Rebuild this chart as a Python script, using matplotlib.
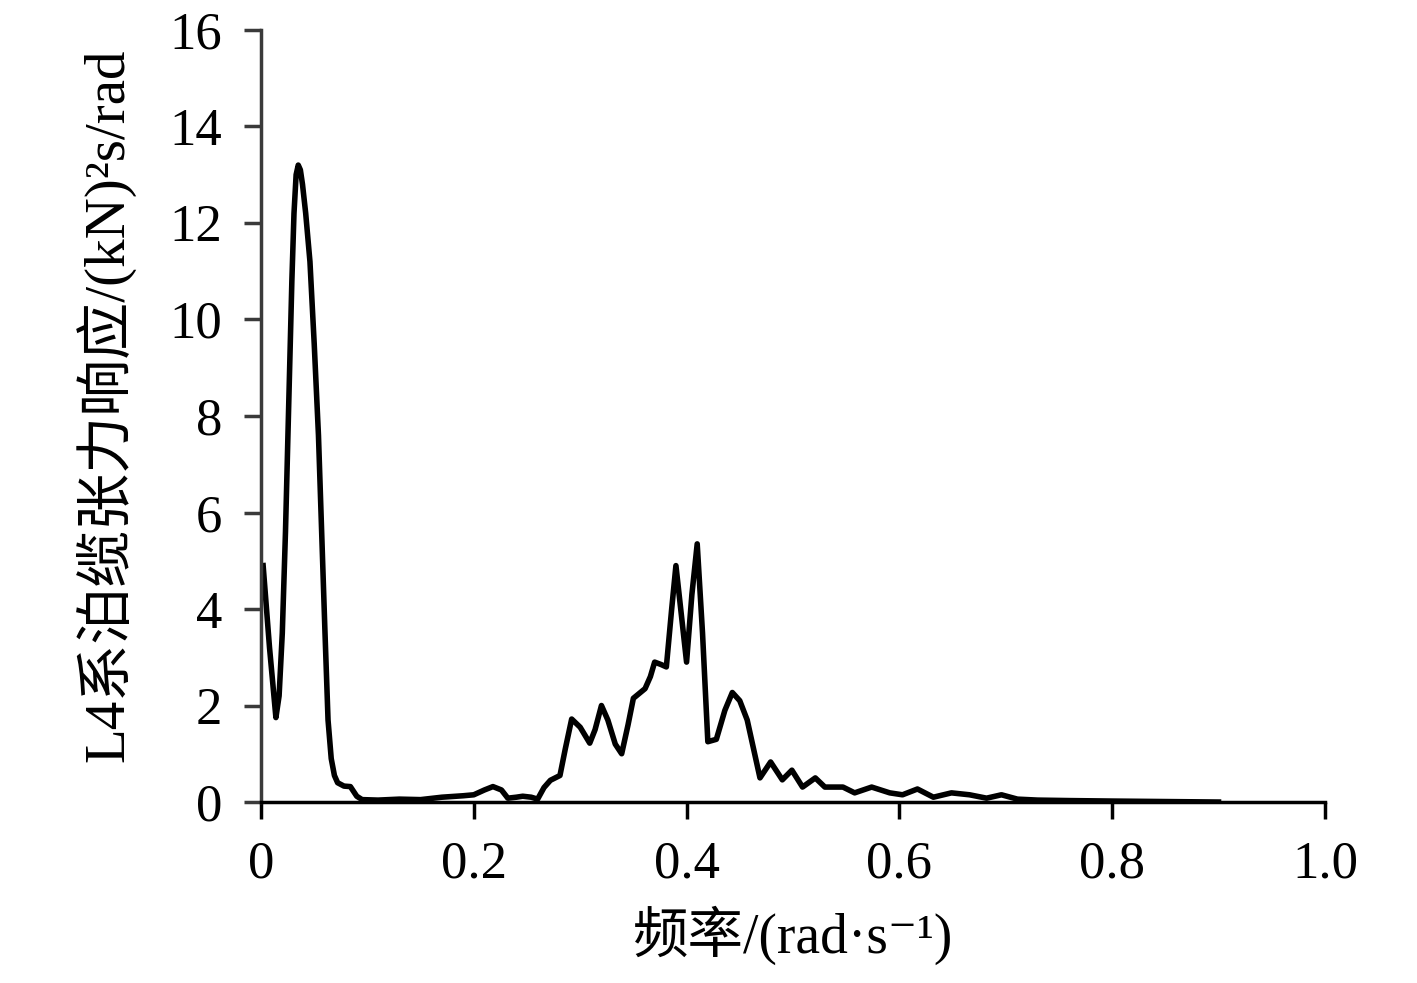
import matplotlib
matplotlib.use("Agg")
import matplotlib.pyplot as plt

plt.rcParams['font.family'] = ['Liberation Serif', 'Noto Sans CJK SC', 'DejaVu Sans']

# frequency (rad/s) and spectral density
freq = [0.002, 0.008, 0.014, 0.017, 0.020, 0.023, 0.026, 0.029, 0.031, 0.033,
        0.035, 0.037, 0.039, 0.042, 0.046, 0.050, 0.054, 0.057, 0.060, 0.063,
        0.066, 0.069, 0.072, 0.078, 0.084, 0.090, 0.095,
        0.11, 0.13, 0.15, 0.17, 0.19, 0.20, 0.21, 0.218, 0.226, 0.232,
        0.24, 0.246, 0.254, 0.26, 0.266, 0.272, 0.281, 0.286, 0.292, 0.300,
        0.309, 0.314, 0.320, 0.326, 0.333, 0.339, 0.345, 0.350, 0.361, 0.366,
        0.370, 0.376, 0.381, 0.386, 0.390, 0.395, 0.400, 0.405, 0.410, 0.415,
        0.420, 0.428, 0.436, 0.443, 0.450, 0.457, 0.463, 0.469, 0.479, 0.490,
        0.499, 0.509, 0.521, 0.530, 0.547, 0.558, 0.574, 0.591, 0.603, 0.617,
        0.632, 0.649, 0.666, 0.682, 0.696, 0.711, 0.73, 0.76, 0.80, 0.85, 0.90]
tension = [4.9, 3.2, 1.75, 2.2, 3.5, 5.6, 8.2, 10.8, 12.2, 13.0,
           13.2, 13.1, 12.8, 12.2, 11.2, 9.5, 7.6, 5.6, 3.6, 1.7,
           0.9, 0.55, 0.4, 0.33, 0.32, 0.12, 0.05,
           0.04, 0.06, 0.05, 0.1, 0.13, 0.15, 0.25, 0.32, 0.25, 0.08,
           0.1, 0.12, 0.1, 0.06, 0.3, 0.45, 0.55, 1.1, 1.72, 1.55,
           1.22, 1.5, 2.0, 1.7, 1.2, 1.0, 1.6, 2.15, 2.35, 2.6,
           2.9, 2.85, 2.8, 4.0, 4.9, 3.9, 2.9, 4.3, 5.35, 3.5,
           1.25, 1.3, 1.9, 2.27, 2.1, 1.7, 1.1, 0.5, 0.83, 0.46,
           0.66, 0.31, 0.5, 0.31, 0.31, 0.19, 0.31, 0.19, 0.15, 0.27,
           0.1, 0.19, 0.15, 0.08, 0.15, 0.06, 0.04, 0.03, 0.02, 0.01, 0.0]

xticks = [0, 0.2, 0.4, 0.6, 0.8, 1.0]
xtick_labels = ['0', '0.2', '0.4', '0.6', '0.8', '1.0']
yticks = [0, 2, 4, 6, 8, 10, 12, 14, 16]

fig = plt.figure(figsize=(14.17, 9.83), dpi=100)
ax = fig.add_axes([0.1842, 0.1841, 0.7508, 0.7854])

ax.plot(freq, tension, color='black', lw=4, solid_joinstyle='round')

ax.set_xlim(0, 1.0)
ax.set_ylim(0, 16)
ax.set_xticks(xticks)
ax.set_xticklabels(xtick_labels)
ax.set_yticks(yticks)

for s in ['top', 'right']:
    ax.spines[s].set_visible(False)
ax.spines['left'].set_color('#3a3a3a')
ax.spines['left'].set_linewidth(2.5)
ax.spines['bottom'].set_linewidth(2.5)

ax.tick_params(axis='both', direction='out', length=12, width=2.5,
               labelsize=38, pad=16)
ax.tick_params(axis='y', color='#3a3a3a')

ax.set_xlabel('频率/(rad·s⁻¹)', fontsize=40, labelpad=12)
ax.set_ylabel('L4系泊缆张力响应/(kN)²s/rad', fontsize=41)
ax.yaxis.set_label_coords(-0.118, 0.514)

fig.savefig('out.png', dpi=100)
